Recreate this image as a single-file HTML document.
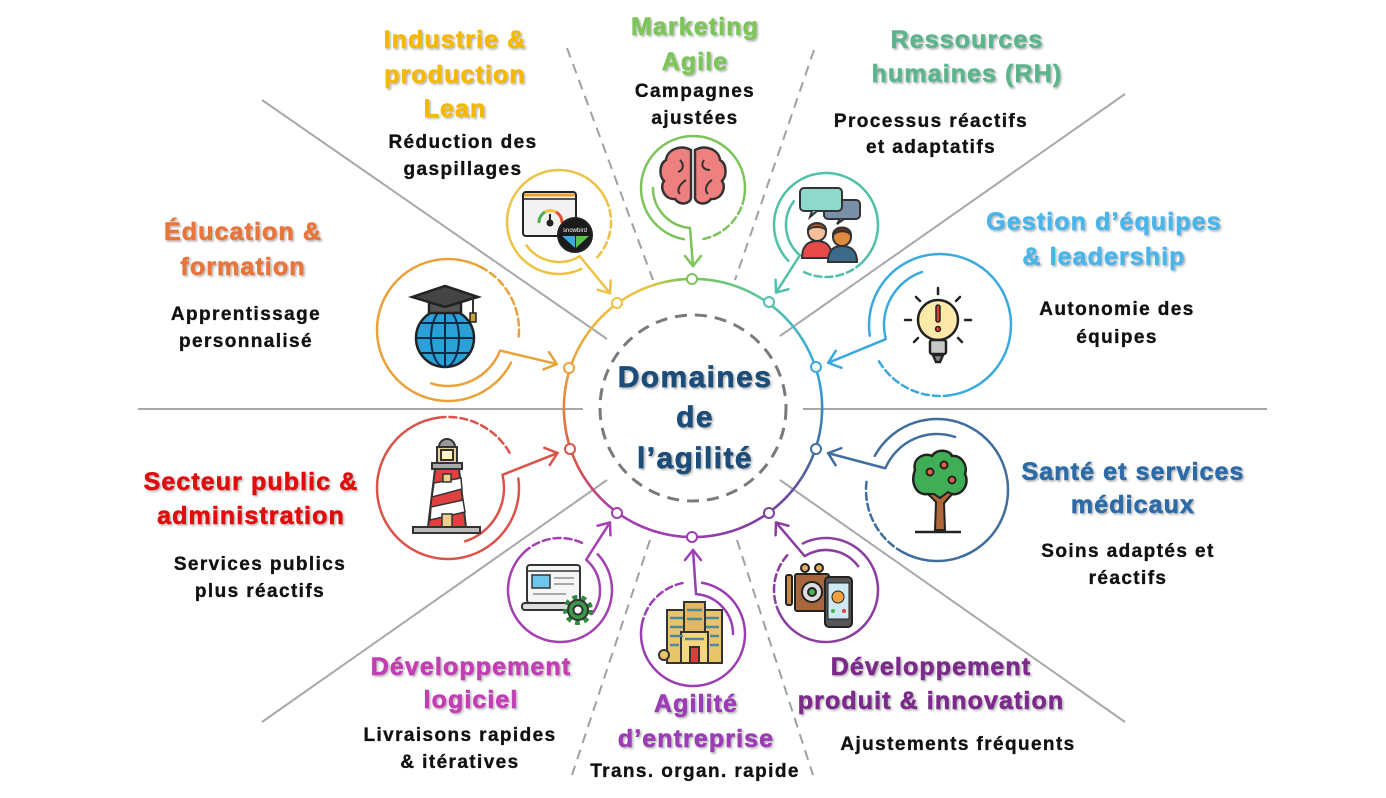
<!DOCTYPE html>
<html><head><meta charset="utf-8"><style>
html,body{margin:0;padding:0;background:#fff}
body{width:1386px;height:798px;overflow:hidden;position:relative}
svg{position:absolute;left:0;top:0}
#ring{position:absolute;left:562px;top:277px;width:262px;height:262px;border-radius:50%;
background:conic-gradient(from 0deg,#7cc35a 0deg,#5fc49a 30deg,#4fbfb0 40deg,#3aa9dd 72deg,#3f6fa0 108deg,#7d3f9e 144deg,#9b3cb4 180deg,#a33fb0 216deg,#d9534a 245deg,#e48a3c 275deg,#e9a23b 290deg,#eec243 324deg,#e6c444 340deg,#7cc35a 355deg,#7cc35a 360deg);
-webkit-mask:radial-gradient(circle closest-side,transparent 127.6px,#000 128px,#000 130.2px,transparent 130.6px);
mask:radial-gradient(circle closest-side,transparent 127.6px,#000 128px,#000 130.2px,transparent 130.6px)}
text{font-family:"Liberation Sans",Arial,sans-serif;font-weight:bold}
.h{font-size:25px;letter-spacing:1.1px;stroke-width:0.6px}
.b{font-size:19px;letter-spacing:1.4px;fill:#111;stroke:#111;stroke-width:0.35px}
.t{font-size:30px;letter-spacing:1.4px;fill:#1f4e79;stroke:#1f4e79;stroke-width:0.7px}
</style></head><body>
<svg width="1386" height="798" viewBox="0 0 1386 798">
<g stroke="#a8a8a8" stroke-width="2" fill="none">
<line x1="138" y1="409" x2="583" y2="409"/>
<line x1="803" y1="409" x2="1267" y2="409"/>
<line x1="262" y1="100" x2="607" y2="339"/>
<line x1="1125" y1="94" x2="780" y2="336"/>
<line x1="262" y1="722" x2="607" y2="480"/>
<line x1="780" y1="480" x2="1125" y2="722"/>
</g>
<g stroke="#a0a0a0" stroke-width="2" fill="none" stroke-dasharray="10 7">
<line x1="567" y1="48" x2="653" y2="280"/>
<line x1="814" y1="50" x2="735" y2="280"/>
<line x1="650" y1="540" x2="572" y2="775"/>
<line x1="737" y1="540" x2="813" y2="775"/>
</g>
<circle cx="693" cy="408" r="93" fill="none" stroke="#7a7a7a" stroke-width="3" stroke-dasharray="12 8"/>
</svg>
<div id="ring"></div>
<svg width="1386" height="798" viewBox="0 0 1386 798">
<defs>
<filter id="sh" x="-10%" y="-30%" width="120%" height="160%"><feDropShadow dx="1.5" dy="1.5" stdDeviation="1" flood-color="#000" flood-opacity="0.3"/></filter>
</defs>
<g fill="#fff" stroke-width="2">
<circle cx="692" cy="279" r="5" stroke="#7cc35a"/>
<circle cx="617" cy="303" r="5" stroke="#eec243"/>
<circle cx="769" cy="302" r="5" stroke="#4fbfb0"/>
<circle cx="569" cy="368" r="5" stroke="#e9a23b"/>
<circle cx="816" cy="367" r="5" stroke="#3aa9dd"/>
<circle cx="570" cy="449" r="5" stroke="#d9534a"/>
<circle cx="816" cy="449" r="5" stroke="#3f6fa0"/>
<circle cx="617" cy="513" r="5" stroke="#a33fb0"/>
<circle cx="769" cy="513" r="5" stroke="#7d3f9e"/>
<circle cx="692" cy="537" r="5" stroke="#9b3cb4"/>
</g>

<g fill="none" stroke-width="2.5" stroke-linecap="round" stroke-linejoin="round">
<g transform="translate(559,222) rotate(54.4)" stroke="#eec243">
<path d="M51.21 9.03A52 52 0 1 1 9.03 -51.21"/><path d="M9.03 -51.21A52 52 0 0 1 51.21 -9.03" stroke-dasharray="7 4"/>
<path d="M39.85 3.49A40 40 0 0 1 0 40"/><path d="M40 3L87.6 0"/><path d="M77.6 -8L87.6 0L77.6 8"/></g>
<g transform="translate(693,188) rotate(90)" stroke="#7cc35a">
<path d="M51.21 9.03A52 52 0 1 1 9.03 -51.21"/><path d="M9.03 -51.21A52 52 0 0 1 51.21 -9.03" stroke-dasharray="7 4"/>
<path d="M39.85 3.49A40 40 0 0 1 0 40"/><path d="M40 3L78 0"/><path d="M68 -8L78 0L68 8"/></g>
<g transform="translate(826,225) rotate(126.5)" stroke="#4fc1a8">
<path d="M51.21 9.03A52 52 0 1 1 9.03 -51.21"/><path d="M9.03 -51.21A52 52 0 0 1 51.21 -9.03" stroke-dasharray="7 4"/>
<path d="M39.85 3.49A40 40 0 0 1 0 40"/><path d="M40 3L84 0"/><path d="M74 -8L84 0L74 8"/></g>
<g transform="translate(826,590) rotate(233.5)" stroke="#8a3d9e">
<path d="M51.21 9.03A52 52 0 1 1 9.03 -51.21"/><path d="M9.03 -51.21A52 52 0 0 1 51.21 -9.03" stroke-dasharray="7 4"/>
<path d="M39.85 3.49A40 40 0 0 1 0 40"/><path d="M40 3L84 0"/><path d="M74 -8L84 0L74 8"/></g>
<g transform="translate(693,634) rotate(270)" stroke="#9b3cb4">
<path d="M51.21 9.03A52 52 0 1 1 9.03 -51.21"/><path d="M9.03 -51.21A52 52 0 0 1 51.21 -9.03" stroke-dasharray="7 4"/>
<path d="M39.85 3.49A40 40 0 0 1 0 40"/><path d="M40 3L84 0"/><path d="M74 -8L84 0L74 8"/></g>
<g transform="translate(560,590) rotate(-53.5)" stroke="#a540b2">
<path d="M51.21 9.03A52 52 0 1 1 9.03 -51.21"/><path d="M9.03 -51.21A52 52 0 0 1 51.21 -9.03" stroke-dasharray="7 4"/>
<path d="M39.85 3.49A40 40 0 0 1 0 40"/><path d="M40 3L84 0"/><path d="M74 -8L84 0L74 8"/></g>
<g transform="translate(940,325) rotate(161.3)" stroke="#3aa9dd">
<path d="M69.92 12.33A71 71 0 1 1 12.33 -69.92"/><path d="M12.33 -69.92A71 71 0 0 1 69.92 -12.33" stroke-dasharray="7 4"/>
<path d="M55.79 4.88A56 56 0 0 1 0 56"/><path d="M56 4L118 0"/><path d="M107 -9L118 0L107 9"/></g>
<g transform="translate(937,490) rotate(198.7)" stroke="#3f6e9e">
<path d="M69.92 12.33A71 71 0 1 1 12.33 -69.92"/><path d="M12.33 -69.92A71 71 0 0 1 69.92 -12.33" stroke-dasharray="7 4"/>
<path d="M55.79 4.88A56 56 0 0 1 0 56"/><path d="M56 4L115 0"/><path d="M104 -9L115 0L104 9"/></g>
<g transform="translate(448,488) rotate(-17.7)" stroke="#d9534a">
<path d="M69.92 12.33A71 71 0 1 1 12.33 -69.92"/><path d="M12.33 -69.92A71 71 0 0 1 69.92 -12.33" stroke-dasharray="7 4"/>
<path d="M55.79 4.88A56 56 0 0 1 0 56"/><path d="M56 4L115 0"/><path d="M104 -9L115 0L104 9"/></g>
<g transform="translate(448,330) rotate(17.4)" stroke="#e9a23b">
<path d="M69.92 12.33A71 71 0 1 1 12.33 -69.92"/><path d="M12.33 -69.92A71 71 0 0 1 69.92 -12.33" stroke-dasharray="7 4"/>
<path d="M55.79 4.88A56 56 0 0 1 0 56"/><path d="M56 4L114 0"/><path d="M103 -9L114 0L103 9"/></g>
</g>

<g stroke="#222" stroke-width="2">
<rect x="523" y="192" width="53" height="44" rx="3" fill="#f2f2f2"/>
<line x1="524" y1="195" x2="575" y2="195" stroke="#f0a030" stroke-width="3"/>
<line x1="523" y1="199" x2="576" y2="199" stroke-width="1.5"/>
<path d="M539 223A12 12 0 0 1 545 212" stroke="#4caf50" stroke-width="3" fill="none"/>
<path d="M545 212A12 12 0 0 1 556 212" stroke="#f0c040" stroke-width="3" fill="none"/>
<path d="M556 212A12 12 0 0 1 562 223" stroke="#e05030" stroke-width="3" fill="none"/>
<line x1="550" y1="223" x2="550" y2="214"/>
<circle cx="550" cy="223" r="2.5" fill="#222"/>
<circle cx="575" cy="235" r="17" fill="#1a1a1a"/>
<path d="M562 236L575 236L575 248Z" fill="#39a9e0" stroke="none"/>
<path d="M576 236L589 236L576 248Z" fill="#5cc04a" stroke="none"/>
</g>
<text x="575" y="232" font-size="6" fill="#fff" text-anchor="middle" style="font-weight:normal;letter-spacing:0">snowbird</text>
<g stroke="#333" stroke-width="2.5" fill="#ef8080">
<path d="M691 150C680 144 667 150 666 160C659 164 659 176 664 181C659 188 665 200 675 199C680 206 690 204 691 198Z"/>
<path d="M695 150C706 144 719 150 720 160C727 164 727 176 722 181C727 188 721 200 711 199C706 206 696 204 695 198Z"/>
<path d="M680 160C684 164 684 170 678 172M686 180C680 184 676 190 680 194M704 160C700 166 704 170 710 170M712 180C706 184 704 190 708 194" fill="none" stroke-width="2"/>
</g>
<g stroke="#333" stroke-width="2">
<rect x="824" y="200" width="36" height="19" rx="4" fill="#7a8fa8"/>
<path d="M840 219l-3 5 7-5" fill="#7a8fa8"/>
<rect x="800" y="188" width="42" height="23" rx="4" fill="#8fd9cc"/>
<path d="M812 211l-2 6 7-6" fill="#8fd9cc"/>
<path d="M802 258C802 244 810 241 817 241C824 241 832 244 832 258Z" fill="#e84a4a"/>
<circle cx="817" cy="232" r="9" fill="#f5c09a"/>
<path d="M808 230C808 221 826 221 826 230C822 226 812 226 808 230Z" fill="#b05a30"/>
<path d="M828 262C828 249 835 246 842 246C849 246 857 249 857 262Z" fill="#3c6a8a"/>
<circle cx="842" cy="237" r="9" fill="#e08a40"/>
<path d="M833 235C833 225 851 225 851 235C847 230 838 230 833 235Z" fill="#6a3020"/>
</g>
<g stroke="#222" stroke-width="2.5" stroke-linecap="round">
<line x1="938" y1="288" x2="938" y2="294"/>
<line x1="916" y1="297" x2="920" y2="301"/>
<line x1="960" y1="297" x2="956" y2="301"/>
<line x1="905" y1="320" x2="911" y2="320"/>
<line x1="965" y1="320" x2="971" y2="320"/>
<line x1="914" y1="342" x2="918" y2="338"/>
<line x1="962" y1="342" x2="958" y2="338"/>
<circle cx="938" cy="320" r="20" fill="#fde9a8"/>
<rect x="930" y="340" width="16" height="14" rx="2" fill="#c8c8c8"/>
<path d="M933 355L943 355L940 362L936 362Z" fill="#888"/>
<rect x="936" y="305" width="4" height="17" rx="2" fill="#e0402f" stroke-width="1.5"/>
<circle cx="938" cy="329" r="2.5" fill="#e0402f" stroke-width="1.5"/>
</g>
<g stroke="#222" stroke-width="2.5">
<path d="M936 531L937 502L928 493M944 531L943 504L952 494" fill="none"/>
<path d="M915 470C912 458 925 452 932 456C937 448 950 450 952 456C962 455 968 466 965 474C970 484 962 496 952 494C946 500 934 500 928 494C917 496 910 484 915 470Z" fill="#3fae55"/>
<path d="M935 530L936 502L928 494L934 494L940 498L948 492L952 494L944 503L945 530Z" fill="#b0683a" stroke-width="2"/>
<circle cx="930" cy="472" r="3.5" fill="#e0604a" stroke-width="2"/>
<circle cx="944" cy="465" r="3.5" fill="#e0604a" stroke-width="2"/>
<circle cx="952" cy="480" r="3.5" fill="#e0604a" stroke-width="2"/>
<line x1="915" y1="532" x2="961" y2="532"/>
</g>
<g stroke="#222" stroke-width="2">
<circle cx="805" cy="568" r="4" fill="#e0b060"/>
<circle cx="819" cy="568" r="4" fill="#e0b060"/>
<rect x="795" y="574" width="34" height="37" rx="2" fill="#a8663c"/>
<circle cx="812" cy="592" r="10" fill="#ddd"/>
<circle cx="812" cy="592" r="4" fill="#4caf50"/>
<rect x="786" y="575" width="6" height="30" rx="2" fill="#c88a4a"/>
<rect x="825" y="577" width="27" height="50" rx="4" fill="#555"/>
<rect x="828" y="583" width="21" height="36" fill="#cde9f3" stroke-width="1"/>
<circle cx="838" cy="597" r="6" fill="#f0a040" stroke-width="1"/>
<circle cx="833" cy="611" r="2" fill="#4caf50" stroke="none"/>
<circle cx="844" cy="611" r="2" fill="#e04040" stroke="none"/>
</g>
<g stroke="#333" stroke-width="2">
<rect x="667" y="610" width="19" height="53" fill="#e9c56a"/>
<rect x="703" y="610" width="19" height="53" fill="#e9c56a"/>
<rect x="684" y="602" width="21" height="30" fill="#e2b860"/>
<rect x="681" y="632" width="27" height="31" fill="#f5d680"/>
<rect x="690" y="647" width="9" height="16" fill="#e03a3a"/>
<line x1="670" y1="618" x2="683" y2="618" stroke="#4a8a9a" stroke-width="2.5"/>
<line x1="670" y1="627" x2="683" y2="627" stroke="#4a8a9a" stroke-width="2.5"/>
<line x1="670" y1="636" x2="683" y2="636" stroke="#4a8a9a" stroke-width="2.5"/>
<line x1="670" y1="645" x2="679" y2="645" stroke="#4a8a9a" stroke-width="2.5"/>
<line x1="706" y1="618" x2="719" y2="618" stroke="#4a8a9a" stroke-width="2.5"/>
<line x1="706" y1="627" x2="719" y2="627" stroke="#4a8a9a" stroke-width="2.5"/>
<line x1="710" y1="636" x2="719" y2="636" stroke="#4a8a9a" stroke-width="2.5"/>
<line x1="710" y1="645" x2="719" y2="645" stroke="#4a8a9a" stroke-width="2.5"/>
<line x1="687" y1="610" x2="702" y2="610" stroke="#4a8a9a" stroke-width="2.5"/>
<line x1="687" y1="619" x2="702" y2="619" stroke="#4a8a9a" stroke-width="2.5"/>
<line x1="685" y1="639" x2="704" y2="639" stroke="#4a8a9a" stroke-width="2.5"/>
<circle cx="664" cy="655" r="5" fill="#e9c56a"/>
</g>
<g stroke="#333" stroke-width="2">
<rect x="527" y="565" width="53" height="38" rx="3" fill="#f5f5f5"/>
<line x1="528" y1="571" x2="579" y2="571" stroke-width="1.5"/>
<rect x="532" y="575" width="18" height="13" fill="#6ec6ec" stroke-width="1.5"/>
<line x1="554" y1="578" x2="574" y2="578" stroke="#aaa"/>
<line x1="554" y1="584" x2="574" y2="584" stroke="#aaa"/>
<line x1="533" y1="594" x2="566" y2="594" stroke="#aaa"/>
<rect x="522" y="603" width="50" height="7" rx="3" fill="#ddd"/>
<circle cx="578" cy="610" r="12" fill="none" stroke="#2f8a3f" stroke-width="6" stroke-dasharray="4.5 4"/>
<circle cx="578" cy="610" r="10" fill="#3a9a4a"/>
<circle cx="578" cy="610" r="4.5" fill="#fff"/>
</g>
<g stroke="#333" stroke-width="2">
<path d="M447 439A8 8 0 0 1 455 447L439 447A8 8 0 0 1 447 439Z" fill="#999"/>
<rect x="437" y="447" width="20" height="16" fill="#f0d090"/>
<rect x="441" y="450" width="12" height="10" fill="#fff3c8"/>
<rect x="432" y="463" width="30" height="6" fill="#aaa"/>
<path d="M435 469L459 469L466 527L428 527Z" fill="#e04040"/>
<path d="M434 483L461 478L462 489L432 497Z" fill="#fff" stroke-width="1.5"/>
<path d="M431 507L463 500L465 512L430 520Z" fill="#fff" stroke-width="1.5"/>
<rect x="443" y="474" width="8" height="8" fill="#f0d090" stroke-width="1.5"/>
<rect x="442" y="514" width="10" height="13" fill="#f0d090" stroke-width="1.5"/>
<rect x="413" y="527" width="67" height="6" fill="#bbb"/>
</g>
<g stroke="#222" stroke-width="2.5">
<circle cx="445" cy="338" r="29" fill="#2aa0d8"/>
<path d="M445 309L445 367M416 338L474 338M421 323L469 323M421 353L469 353" fill="none" stroke="#0b2a44" stroke-width="2"/>
<ellipse cx="445" cy="338" rx="14" ry="29" fill="none" stroke="#0b2a44" stroke-width="2"/>
<rect x="429" y="298" width="32" height="15" fill="#555"/>
<path d="M412 297L445 286L478 297L445 307Z" fill="#444"/>
<line x1="473" y1="298" x2="473" y2="314" stroke="#333" stroke-width="2"/>
<rect x="470" y="313" width="6" height="9" fill="#c9a040" stroke-width="1.5"/>
</g>

<g text-anchor="middle" filter="url(#sh)">
<text class="h" x="455" y="48" fill="#f5b800" stroke="#f5b800">Industrie &amp;</text>
<text class="h" x="455" y="83" fill="#f5b800" stroke="#f5b800">production</text>
<text class="h" x="455" y="117" fill="#f5b800" stroke="#f5b800">Lean</text>
<text class="h" x="695" y="35" fill="#7dc55a" stroke="#7dc55a">Marketing</text>
<text class="h" x="695" y="70" fill="#7dc55a" stroke="#7dc55a">Agile</text>
<text class="h" x="967" y="48" fill="#5cb48d" stroke="#5cb48d">Ressources</text>
<text class="h" x="967" y="82" fill="#5cb48d" stroke="#5cb48d">humaines (RH)</text>
<text class="h" x="1104" y="230" fill="#4bb5ea" stroke="#4bb5ea">Gestion d’équipes</text>
<text class="h" x="1104" y="265" fill="#4bb5ea" stroke="#4bb5ea">&amp; leadership</text>
<text class="h" x="1133" y="480" fill="#2d6ba6" stroke="#2d6ba6">Santé et services</text>
<text class="h" x="1133" y="513" fill="#2d6ba6" stroke="#2d6ba6">médicaux</text>
<text class="h" x="931" y="675" fill="#7b2c8a" stroke="#7b2c8a">Développement</text>
<text class="h" x="931" y="709" fill="#7b2c8a" stroke="#7b2c8a">produit &amp; innovation</text>
<text class="h" x="696" y="712" fill="#9b3cb5" stroke="#9b3cb5">Agilité</text>
<text class="h" x="696" y="747" fill="#9b3cb5" stroke="#9b3cb5">d’entreprise</text>
<text class="h" x="471" y="675" fill="#c33cb4" stroke="#c33cb4">Développement</text>
<text class="h" x="471" y="708" fill="#c33cb4" stroke="#c33cb4">logiciel</text>
<text class="h" x="251" y="490" fill="#e00a0a" stroke="#e00a0a">Secteur public &amp;</text>
<text class="h" x="251" y="524" fill="#e00a0a" stroke="#e00a0a">administration</text>
<text class="h" x="243" y="240" fill="#e8743a" stroke="#e8743a">Éducation &amp;</text>
<text class="h" x="243" y="275" fill="#e8743a" stroke="#e8743a">formation</text>
</g>
<g text-anchor="middle" filter="url(#sh)">
<text class="t" x="695" y="387">Domaines</text>
<text class="t" x="695" y="427">de</text>
<text class="t" x="695" y="468">l’agilité</text>
</g>
<g text-anchor="middle">
<text class="b" x="463" y="148">Réduction des</text>
<text class="b" x="463" y="175">gaspillages</text>
<text class="b" x="695" y="97">Campagnes</text>
<text class="b" x="695" y="124">ajustées</text>
<text class="b" x="931" y="127">Processus réactifs</text>
<text class="b" x="931" y="153">et adaptatifs</text>
<text class="b" x="1117" y="315">Autonomie des</text>
<text class="b" x="1117" y="343">équipes</text>
<text class="b" x="1128" y="557">Soins adaptés et</text>
<text class="b" x="1128" y="584">réactifs</text>
<text class="b" x="958" y="750">Ajustements fréquents</text>
<text class="b" x="695" y="777">Trans. organ. rapide</text>
<text class="b" x="460" y="741">Livraisons rapides</text>
<text class="b" x="460" y="768">&amp; itératives</text>
<text class="b" x="260" y="570">Services publics</text>
<text class="b" x="260" y="597">plus réactifs</text>
<text class="b" x="246" y="320">Apprentissage</text>
<text class="b" x="246" y="347">personnalisé</text>
</g>
</svg>
</body></html>
